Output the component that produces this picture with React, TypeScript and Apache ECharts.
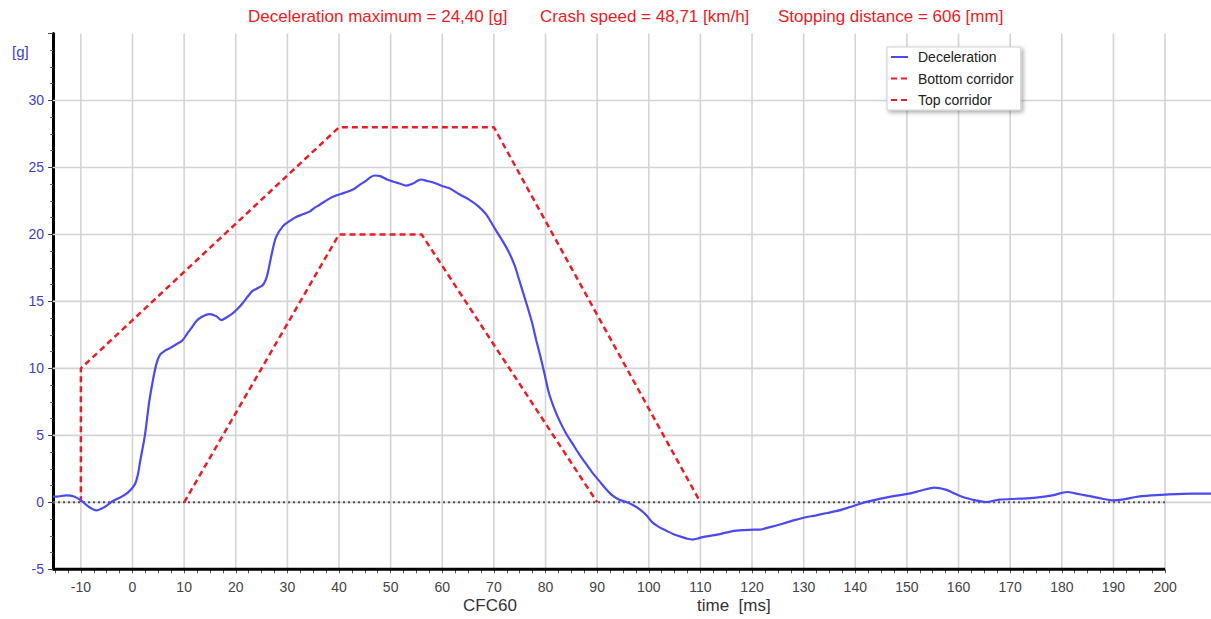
import React, { useEffect, useRef } from "react";
import * as echarts from "echarts";

// ---- data ----
const xTickLabels = [-10, 0, 10, 20, 30, 40, 50, 60, 70, 80, 90, 100, 110, 120, 130, 140, 150, 160, 170, 180, 190, 200];
const yTickLabels = [-5, 0, 5, 10, 15, 20, 25, 30];
const xMin = -15.4;
const xMax = 208.9;
const yMin = -5;
const yMax = 35;

const timeMs = [
  -15.4, -14.8, -12.8, -11.2, -9.9, -8.6, -7.0, -5.4, -3.8, -2.2, -0.9, 0.4, 1.0, 1.5, 2.4, 3.2, 3.9, 4.6, 5.3, 6.2, 7.2,
  8.5, 9.7, 10.6, 11.4, 12.3, 13.2, 14.9, 16.2, 17.2, 18.2, 19.4, 20.5, 21.4, 22.4, 23.3, 24.3, 25.2, 25.8, 26.3, 27.0,
  27.8, 29.1, 30.4, 31.7, 33.0, 34.3, 35.3, 36.2, 37.8, 39.4, 41.0, 42.7, 44.0, 45.2, 46.2, 46.9, 48.0, 49.3, 50.4,
  51.7, 53.0, 54.3, 55.2, 55.9, 57.0, 58.1, 60.1, 61.4, 63.3, 65.2, 67.0, 68.5, 70.4, 71.7, 73.0, 74.0, 74.9, 75.7,
  76.5, 77.4, 78.2, 79.0, 79.8, 80.7, 81.7, 82.7, 83.9, 85.2, 86.5, 87.8, 89.1, 90.4, 91.7, 93.0, 94.3, 95.6, 96.9,
  98.2, 99.5, 100.7, 102.0, 103.3, 104.9, 106.5, 107.5, 108.5, 109.5, 110.4, 112.4, 114.0, 115.6, 117.5, 119.5,
  121.4, 123.5, 125.9, 128.0, 130.0, 132.4, 134.5, 136.9, 139.0, 141.4, 143.5, 145.9, 148.0, 150.4, 152.0, 153.0,
  155.3, 157.5, 159.0, 160.8, 163.3, 165.3, 167.9, 171.7, 175.0, 178.2, 181.1, 182.8, 184.6, 187.9, 189.8, 191.7,
  194.3, 197.5, 200.8, 205.3, 208.9,
];
const deceleration = [
  0.42, 0.42, 0.52, 0.42, 0.12, -0.3, -0.6, -0.35, 0.1, 0.4, 0.72, 1.3, 2.0, 3.1, 5.0, 7.4, 9.0, 10.3, 11.0, 11.3, 11.5,
  11.8, 12.1, 12.6, 13.0, 13.5, 13.8, 14.05, 13.9, 13.6, 13.8, 14.1, 14.5, 14.9, 15.4, 15.8, 16.0, 16.2, 16.6, 17.3, 18.6,
  19.8, 20.6, 21.0, 21.3, 21.5, 21.7, 22.0, 22.2, 22.6, 22.9, 23.1, 23.35, 23.7, 24.0, 24.3, 24.4, 24.35, 24.1, 23.95,
  23.8, 23.65, 23.8, 24.0, 24.1, 24.0, 23.9, 23.6, 23.45, 23.0, 22.6, 22.1, 21.5, 20.3, 19.5, 18.6, 17.7, 16.6, 15.6,
  14.6, 13.4, 12.1, 10.9, 9.6, 8.1, 7.0, 6.1, 5.2, 4.4, 3.6, 2.9, 2.2, 1.6, 1.0, 0.5, 0.2, 0.02, -0.2,
  -0.5, -0.95, -1.5, -1.85, -2.1, -2.4, -2.6, -2.72, -2.78, -2.7, -2.6, -2.47, -2.35, -2.2, -2.1, -2.05,
  -2.04, -1.85, -1.6, -1.35, -1.15, -0.97, -0.8, -0.6, -0.35, -0.05, 0.15, 0.35, 0.5, 0.65, 0.8, 0.9,
  1.1, 0.95, 0.7, 0.4, 0.15, 0.02, 0.2, 0.27, 0.35, 0.52, 0.77, 0.65, 0.52, 0.27, 0.15, 0.2,
  0.4, 0.52, 0.6, 0.65, 0.65,
];

const bottomCorridorT = [10, 40, 56, 90];
const bottomCorridorG = [0, 20, 20, 0];
const topCorridorT = [-10, -10, 40, 70, 110];
const topCorridorG = [0, 10, 28, 28, 0];

const zeroLineEnd = 200;

const titleTexts = [
  "Deceleration maximum = 24,40 [g]",
  "Crash speed = 48,71 [km/h]",
  "Stopping distance = 606 [mm]",
];

const FONT = "'Liberation Sans', Arial, sans-serif";
const RED = "#ec1c24";
const BLUE = "#4a4af0";

export default function App() {
  const ref = useRef<HTMLDivElement>(null);

  useEffect(() => {
    if (!ref.current) return;
    const chart = echarts.init(ref.current, undefined, { renderer: "svg" });

    const pair = (xs: number[], ys: number[]) => xs.map((x, i) => [x, ys[i]]);

    const minorTicks: number[] = [];
    xTickLabels.forEach((v) => {
      [v - 7.5, v - 5, v - 2.5, v].forEach((t) => {
        if (t >= xMin && t <= zeroLineEnd) minorTicks.push(t);
      });
    });

    const vGrid: any[] = [];
    xTickLabels.forEach((v) => {
      vGrid.push([v, yMin], [v, yMax], [v, "-"]);
    });
    const hGrid: any[] = [];
    yTickLabels
      .filter((v) => v > yMin)
      .forEach((v) => {
        hGrid.push([xMin, v], [xMax, v], [xMax, "-"]);
      });

    const gridLineStyle = { color: "#d4d4d4", width: 1.6 };

    const titleX = [248, 540, 778];

    chart.setOption({
      animation: false,
      textStyle: { fontFamily: FONT },
      grid: { left: 53, right: 0, top: 33.5, bottom: 49.7, containLabel: false },
      legend: {
        data: ["Deceleration", "Bottom corridor", "Top corridor"],
        orient: "vertical",
        left: 887,
        top: 47,
        itemWidth: 17,
        itemHeight: 14,
        itemGap: 7.5,
        padding: [3, 7, 3, 3],
        backgroundColor: "#ffffff",
        borderColor: "#d0d0d0",
        borderWidth: 1,
        shadowColor: "rgba(0,0,0,0.35)",
        shadowBlur: 4,
        shadowOffsetX: 2,
        shadowOffsetY: 2,
        itemStyle: { opacity: 0 },
        textStyle: { fontSize: 14, color: "#222", fontFamily: FONT, padding: [0, 0, 0, 5] },
      },
      xAxis: {
        type: "value",
        min: xMin,
        max: xMax,
        axisLine: { show: false, onZero: false },
        axisTick: { show: true, customValues: minorTicks, length: 4, lineStyle: { color: "#555", width: 1 } },
        axisLabel: { customValues: xTickLabels, fontSize: 14, color: "#444", margin: 11, fontFamily: FONT },
        splitLine: { show: false },
      },
      yAxis: {
        type: "value",
        min: yMin,
        max: yMax,
        interval: 5,
        axisLine: { show: true, onZero: false, lineStyle: { color: "#000", width: 3 } },
        axisTick: { show: true, length: 5, lineStyle: { color: "#444", width: 1 } },
        minorTick: { show: true, splitNumber: 4, length: 3, lineStyle: { color: "#666", width: 1 } },
        splitLine: { show: false },
        minorSplitLine: { show: false },
        axisLabel: {
          fontSize: 14,
          color: "#4040d0",
          margin: 9,
          fontFamily: FONT,
          formatter: (v: number) => (v === yMax ? "" : String(v)),
        },
      },
      graphic: [
        ...titleTexts.map((t, i) => ({
          type: "text",
          left: titleX[i],
          top: 8,
          style: { text: t, fill: RED, font: `17px ${FONT}` },
        })),
        { type: "text", left: 12, top: 44, style: { text: "[g]", fill: "#4040d0", font: `15px ${FONT}` } },
        { type: "text", left: 463, top: 597, style: { text: "CFC60", fill: "#333", font: `17px ${FONT}` } },
        { type: "text", left: 697, top: 597, style: { text: "time  [ms]", fill: "#333", font: `17px ${FONT}` } },
      ],
      series: [
        {
          name: "vgrid",
          type: "line",
          data: vGrid,
          symbol: "none",
          silent: true,
          z: 0,
          clip: false,
          lineStyle: gridLineStyle,
        },
        {
          name: "hgrid",
          type: "line",
          data: hGrid,
          symbol: "none",
          silent: true,
          z: 0,
          lineStyle: gridLineStyle,
        },
        {
          name: "zero",
          type: "line",
          data: [
            [xMin, 0],
            [zeroLineEnd, 0],
          ],
          symbol: "none",
          silent: true,
          z: 1,
          lineStyle: { color: "#555", width: 2, type: [2, 3] },
        },
        {
          name: "xaxisline",
          type: "line",
          data: [
            [xMin, yMin],
            [zeroLineEnd, yMin],
          ],
          symbol: "none",
          silent: true,
          clip: false,
          z: 5,
          lineStyle: { color: "#000", width: 3 },
        },
        {
          name: "Bottom corridor",
          type: "line",
          data: pair(bottomCorridorT, bottomCorridorG),
          symbol: "none",
          z: 2,
          color: RED,
          lineStyle: { color: RED, width: 2.5, type: [6, 4] },
        },
        {
          name: "Top corridor",
          type: "line",
          data: pair(topCorridorT, topCorridorG),
          symbol: "none",
          z: 2,
          color: RED,
          lineStyle: { color: RED, width: 2.5, type: [6, 4] },
        },
        {
          name: "Deceleration",
          type: "line",
          data: pair(timeMs, deceleration),
          symbol: "none",
          smooth: 0.3,
          z: 3,
          color: BLUE,
          lineStyle: { color: BLUE, width: 2.2 },
        },
      ],
    });

    return () => chart.dispose();
  }, []);

  return <div ref={ref} style={{ position: "absolute", left: 0, top: 0, width: 1211, height: 619 }} />;
}
